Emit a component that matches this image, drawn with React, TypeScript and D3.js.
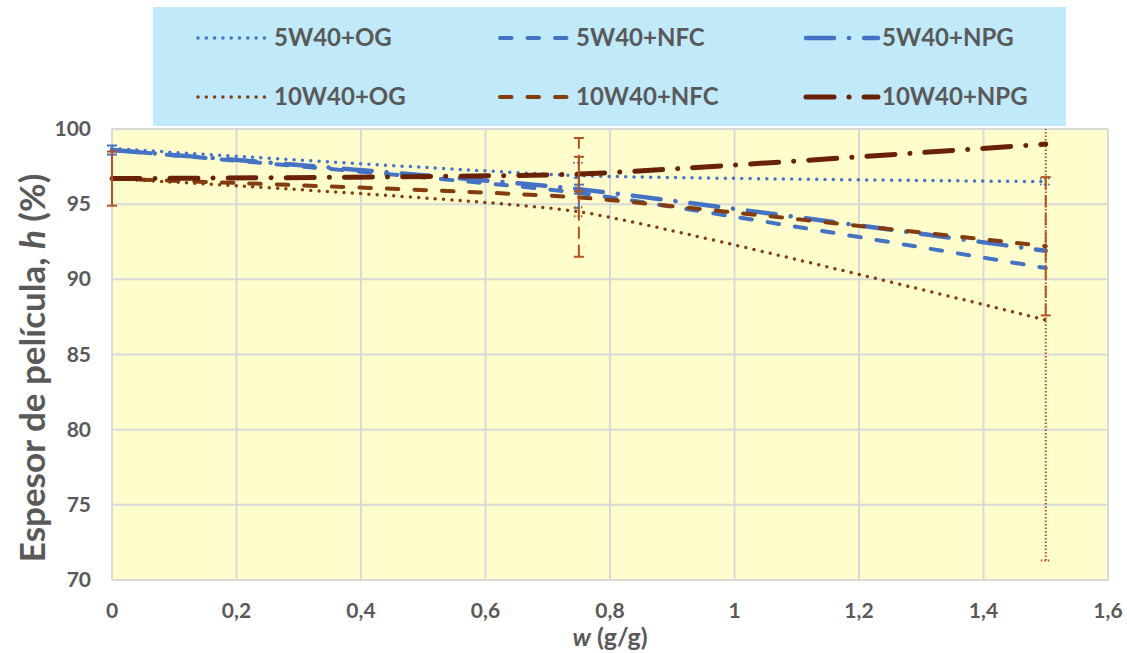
import React, { useEffect, useRef } from "react";
import * as d3 from "d3";

// w (g/g) at which the film thickness was measured
const wValues = [0, 0.75, 1.5];

const seriesNames = ["5W40+OG", "5W40+NFC", "5W40+NPG", "10W40+OG", "10W40+NFC", "10W40+NPG"];

// espesor de película h (%)
const og5 = [98.7, 96.9, 96.5];
const nfc5 = [98.6, 95.75, 90.75];
const npg5 = [98.6, 96.0, 91.9];
const og10 = [96.7, 94.5, 87.3];
const nfc10 = [96.7, 95.45, 92.2];
const npg10 = [96.7, 97.0, 99.0];

// error bars (+/-)
const errOg5 = [0, 0.85, 0.2];
const errNfc5 = [0, 1.0, 0];
const errNpg5 = [0.3, 0.3, 0];
const errOg10 = [0, 0.3, 16];
const errNfc10 = [0, 3.95, 4.6];
const errNpg10 = [1.8, 1.15, 0];

const xTicks = [0, 0.2, 0.4, 0.6, 0.8, 1, 1.2, 1.4, 1.6];
const yTicks = [70, 75, 80, 85, 90, 95, 100];

const BLUE = "#4472C4";
const BROWN = "#843C0C";
const DARK = "#6A2206";
const ERR_BROWN = "#B4531F";
const TEXT = "#595959";
const FONT = "Lato, 'Open Sans', sans-serif";

type Style = { color: string; width: number; dash: string; errDash: string; errColor: string };

const styles: Style[] = [
  { color: BLUE, width: 3.5, dash: "0 8.3", errDash: "0 4", errColor: BLUE },
  { color: BLUE, width: 4, dash: "11.5 16", errDash: "6 4", errColor: BLUE },
  { color: BLUE, width: 4.5, dash: "28 15 0.1 15", errDash: "none", errColor: BLUE },
  { color: BROWN, width: 3.5, dash: "0 8.3", errDash: "1.5 2", errColor: ERR_BROWN },
  { color: BROWN, width: 4, dash: "11.5 16", errDash: "12 6", errColor: ERR_BROWN },
  { color: DARK, width: 5, dash: "28 15 0.1 15", errDash: "none", errColor: ERR_BROWN },
];

const values = [og5, nfc5, npg5, og10, nfc10, npg10];
const errors = [errOg5, errNfc5, errNpg5, errOg10, errNfc10, errNpg10];

export default function App() {
  const ref = useRef<SVGSVGElement>(null);

  useEffect(() => {
    document.body.style.margin = "0";
    const svg = d3.select(ref.current);
    svg.selectAll("*").remove();

    const x = d3.scaleLinear().domain([0, 1.6]).range([112, 1108]);
    const y = d3.scaleLinear().domain([70, 100]).range([580, 129]);

    // legend box
    svg.append("rect").attr("x", 153).attr("y", 7).attr("width", 913).attr("height", 119).attr("fill", "#C0E9F9");

    // plot area
    svg
      .append("rect")
      .attr("x", x(0))
      .attr("y", y(100))
      .attr("width", x(1.6) - x(0))
      .attr("height", y(70) - y(100))
      .attr("fill", "#FFFDCC");

    svg
      .append("defs")
      .append("clipPath")
      .attr("id", "plotclip")
      .append("rect")
      .attr("x", x(0) - 10)
      .attr("y", y(100))
      .attr("width", x(1.6) - x(0) + 10)
      .attr("height", y(70) - y(100));

    const grid = svg.append("g").attr("stroke", "#D9D9D9").attr("stroke-width", 2);
    xTicks.forEach((t) => {
      grid.append("line").attr("x1", x(t)).attr("x2", x(t)).attr("y1", y(70)).attr("y2", y(100));
    });
    yTicks.forEach((t) => {
      grid.append("line").attr("x1", x(0)).attr("x2", x(1.6)).attr("y1", y(t)).attr("y2", y(t));
    });

    // tick labels
    svg
      .append("g")
      .selectAll("text")
      .data(yTicks)
      .join("text")
      .attr("x", 91)
      .attr("y", (d) => y(d) + 7)
      .attr("text-anchor", "end")
      .attr("font-family", FONT)
      .attr("font-weight", "bold")
      .attr("font-size", 21)
      .attr("fill", TEXT)
      .text((d) => d);

    svg
      .append("g")
      .selectAll("text")
      .data(xTicks)
      .join("text")
      .attr("x", (d) => x(d))
      .attr("y", 618)
      .attr("text-anchor", "middle")
      .attr("font-family", FONT)
      .attr("font-weight", "bold")
      .attr("font-size", 21)
      .attr("fill", TEXT)
      .text((d) => String(d).replace(".", ","));

    // axis titles
    const yt = svg
      .append("text")
      .attr("transform", `translate(45, 368) rotate(-90)`)
      .attr("text-anchor", "middle")
      .attr("font-family", FONT)
      .attr("font-weight", "bold")
      .attr("font-size", 35)
      .attr("fill", TEXT);
    yt.append("tspan").text("Espesor de película, ");
    yt.append("tspan").attr("font-style", "italic").text("h");
    yt.append("tspan").text(" (%)");

    const xt = svg
      .append("text")
      .attr("x", x(0.8))
      .attr("y", 646)
      .attr("text-anchor", "middle")
      .attr("font-family", FONT)
      .attr("font-weight", "bold")
      .attr("font-size", 25)
      .attr("fill", TEXT);
    xt.append("tspan").attr("font-style", "italic").text("w");
    xt.append("tspan").text(" (g/g)");

    const plot = svg.append("g").attr("clip-path", "url(#plotclip)");

    const line = d3
      .line<number>()
      .x((d, i) => x(wValues[i]))
      .y((d) => y(d))
      .curve(d3.curveCardinal.tension(0.5));

    values.forEach((vals, s) => {
      const st = styles[s];
      plot
        .append("path")
        .datum(vals)
        .attr("d", line)
        .attr("fill", "none")
        .attr("stroke", st.color)
        .attr("stroke-width", st.width)
        .attr("stroke-dasharray", st.dash)
        .attr("stroke-linecap", "round");

      // error bars
      const eb = plot
        .append("g")
        .attr("stroke", st.errColor)
        .attr("stroke-width", 2)
        .attr("stroke-linecap", st.errDash.startsWith("0") ? "round" : "butt");
      vals.forEach((v, i) => {
        const e = errors[s][i];
        if (!e) return;
        const cx = x(wValues[i]);
        eb.append("line")
          .attr("x1", cx)
          .attr("x2", cx)
          .attr("y1", y(v - e))
          .attr("y2", y(v + e))
          .attr("stroke-dasharray", st.errDash);
        [v - e, v + e].forEach((c) => {
          eb.append("line")
            .attr("x1", cx - 5)
            .attr("x2", cx + 5)
            .attr("y1", y(c))
            .attr("y2", y(c))
            .attr("stroke-dasharray", st.errDash);
        });
      });
    });

    // legend entries
    const colX = [198, 500, 806];
    const rowY = [38, 97];
    seriesNames.forEach((name, s) => {
      const st = styles[s];
      const lx = colX[s % 3];
      const ly = rowY[Math.floor(s / 3)];
      svg
        .append("line")
        .attr("x1", lx)
        .attr("x2", lx + 72)
        .attr("y1", ly)
        .attr("y2", ly)
        .attr("stroke", st.color)
        .attr("stroke-width", st.width)
        .attr("stroke-dasharray", st.dash)
        .attr("stroke-linecap", "round");
      svg
        .append("text")
        .attr("x", lx + 76)
        .attr("y", ly + 8)
        .attr("font-family", FONT)
        .attr("font-weight", "bold")
        .attr("font-size", 24)
        .attr("fill", TEXT)
        .text(name);
    });
  }, []);

  return <svg ref={ref} width={1127} height={653} style={{ display: "block" }} />;
}
